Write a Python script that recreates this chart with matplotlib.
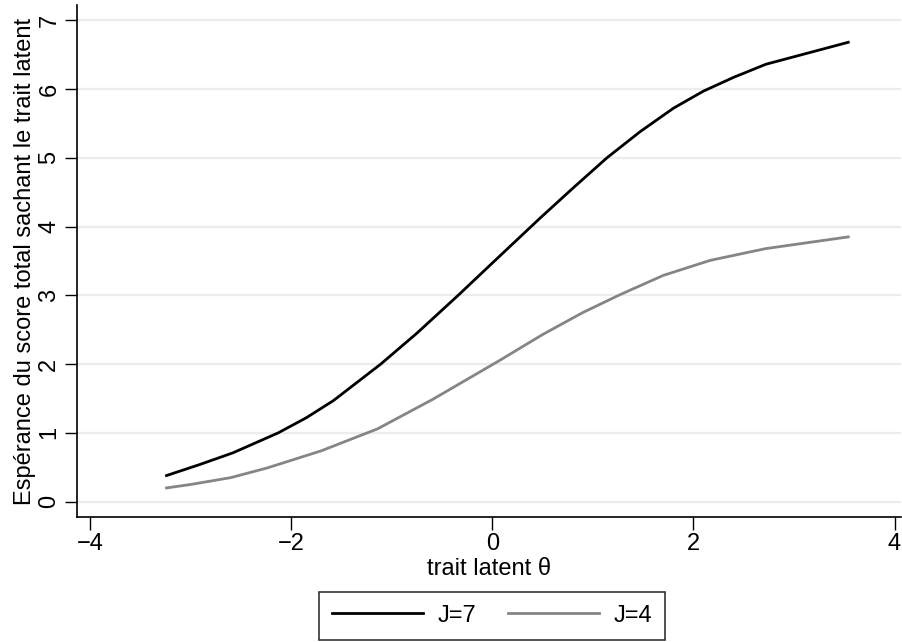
import matplotlib
matplotlib.use("Agg")
from matplotlib import pyplot as plt

# values
theta7 = [-3.24, -2.91, -2.58, -2.13, -1.85, -1.58, -1.11, -0.75, -0.34, 0.08, 0.48, 0.81,
          1.14, 1.47, 1.80, 2.10, 2.40, 2.72, 3.54]
j7 = [0.38, 0.54, 0.71, 1.00, 1.22, 1.47, 2.00, 2.45, 3.00, 3.58, 4.13, 4.57,
      5.00, 5.38, 5.72, 5.97, 6.17, 6.36, 6.68]
theta4 = [-3.24, -3.0, -2.6, -2.24, -1.7, -1.14, -0.59, 0.08, 0.5, 0.9, 1.27,
          1.7, 2.17, 2.72, 3.54]
j4 = [0.20, 0.25, 0.35, 0.49, 0.74, 1.06, 1.49, 2.06, 2.43, 2.75, 3.01,
      3.29, 3.51, 3.68, 3.85]
xticks = [-4, -2, 0, 2, 4]
yticks = [0, 1, 2, 3, 4, 5, 6, 7]

plt.rcParams["font.family"] = ["Liberation Sans", "DejaVu Sans"]

fig = plt.figure(figsize=(9.03, 6.42), dpi=100)
ax = fig.add_axes([0.0853, 0.195, 0.912, 0.797])

for y in yticks:
    ax.axhline(y, color="#ececec", lw=1.6, zorder=0)

ax.plot(theta7, j7, color="black", lw=2, label="J=7")
ax.plot(theta4, j4, color="#858585", lw=2, label="J=4")

ax.set_xlim(-4.13, 4.06)
ax.set_ylim(-0.22, 7.22)
ax.set_xticks(xticks)
ax.set_xticklabels([f"\u2212{abs(v)}" if v < 0 else str(v) for v in xticks])
ax.set_yticks(yticks)
ax.tick_params(axis="both", direction="out", length=9, width=1, labelsize=17, pad=3)
plt.setp(ax.get_yticklabels(), rotation=90, va="center")
for s in ["top", "right"]:
    ax.spines[s].set_visible(False)
ax.spines["left"].set_linewidth(1.2)
ax.spines["bottom"].set_linewidth(1.2)

ax.set_xlabel("trait latent \u03b8", fontsize=17, labelpad=2)
ax.set_ylabel("Espérance du score total sachant le trait latent", fontsize=17, labelpad=2)

leg = fig.legend(loc="center", bbox_to_anchor=(0.545, 0.041), ncol=2, fontsize=17,
                 frameon=True, fancybox=False, edgecolor="black", handlelength=3.85,
                 handletextpad=0.6, columnspacing=1.36, borderpad=0.55)
leg.get_frame().set_linewidth(1.2)

fig.savefig("out.png", dpi=100)
